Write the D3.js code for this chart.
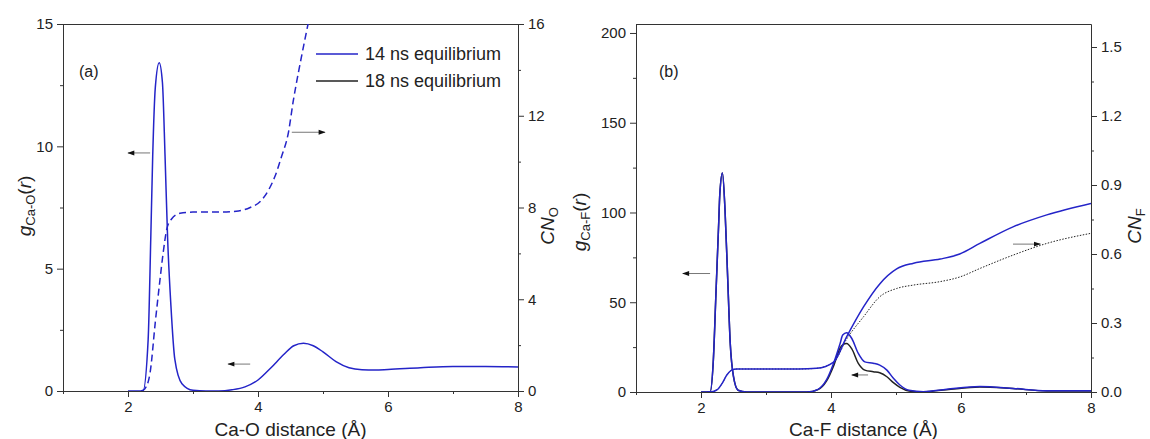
<!DOCTYPE html>
<html>
<head>
<meta charset="utf-8">
<script src="https://cdn.jsdelivr.net/npm/d3@7"></script>
<style>
    body { margin: 0; background: #fff; }
    text { font-family: "Liberation Sans", Arial, sans-serif; fill: #222; }
    .axis path, .axis line { stroke: #333; stroke-width: 1; }
    .axis text { font-size: 15px; font-family: "Liberation Sans", Arial, sans-serif; fill: #222; }
</style>
</head>
<body>
<div id="the_chart"></div>
<script>
// ---- panel (a): Ca-O ----
var r_gCaO = [2.0, 2.1, 2.23, 2.31, 2.35, 2.38, 2.42, 2.48, 2.53, 2.57, 2.61, 2.66, 2.72, 2.83, 3.0, 3.2, 3.4, 3.6, 3.8, 4.0, 4.2, 4.4, 4.55, 4.7, 4.85, 5.0, 5.2, 5.4, 5.6, 5.8, 6.0, 6.5, 7.0, 7.5, 8.0];
var gCaO = [0, 0, 0, 2.1, 6.2, 9.6, 12.4, 13.42, 12.6, 9.6, 6.2, 3.5, 1.3, 0.3, 0.03, 0, 0, 0.05, 0.17, 0.45, 0.95, 1.5, 1.85, 1.95, 1.85, 1.6, 1.2, 0.95, 0.87, 0.86, 0.88, 0.95, 1.0, 1.0, 0.98];

var r_cnO = [2.2, 2.26, 2.34, 2.42, 2.49, 2.54, 2.6, 2.67, 2.8, 3.0, 3.4, 3.7, 3.88, 4.03, 4.16, 4.26, 4.36, 4.47, 4.54, 4.65, 4.77, 4.9];
var cnO = [0, 0.1, 0.8, 3.0, 4.8, 6.0, 7.1, 7.5, 7.75, 7.8, 7.8, 7.85, 8.0, 8.25, 8.75, 9.35, 10.2, 11.3, 12.6, 14.3, 16, 17.8];

// ---- panel (b): Ca-F ----
var r_gCaF = [2.0, 2.1, 2.14, 2.19, 2.23, 2.27, 2.29, 2.33, 2.37, 2.41, 2.45, 2.5, 2.57, 2.7, 3.5, 3.63, 3.8, 3.93, 4.04, 4.14, 4.18, 4.24, 4.32, 4.42, 4.52, 4.65, 4.75, 4.86, 4.96, 5.06, 5.2, 5.42, 5.78, 6.29, 6.8, 7.32, 8.0];
var gCaF_14 = [0, 0, 0, 17.8, 54.9, 91.9, 110.5, 122, 101, 64, 27, 8.5, 1, 0, 0, 0, 1.5, 6.7, 16, 27, 31.7, 33, 29.8, 21.5, 16.8, 16, 15, 12.2, 7.6, 3.9, 1, 0.2, 1.5, 3, 2, 0.7, 0.7];
var gCaF_18 = [0, 0, 0, 17.8, 54.9, 91.9, 110.5, 122, 101, 64, 27, 8.5, 1, 0, 0, 0, 1.3, 6, 14.5, 24.5, 26.3, 27, 24, 16, 12.2, 11.3, 10.7, 8.5, 5.2, 2.6, 0.6, 0.1, 1.3, 2.8, 1.9, 0.6, 0.6];

var r_cnF = [2.1, 2.15, 2.25, 2.33, 2.4, 2.47, 2.55, 3.0, 3.5, 3.78, 4.04, 4.24, 4.5, 4.75, 5.01, 5.27, 5.68, 5.98, 6.29, 6.8, 7.32, 8.0];
var cnF_14 = [0, 0, 0.01, 0.04, 0.075, 0.095, 0.1, 0.1, 0.1, 0.103, 0.13, 0.24, 0.37, 0.47, 0.535, 0.56, 0.578, 0.60, 0.646, 0.718, 0.77, 0.82];
var cnF_18 = [0, 0, 0.01, 0.04, 0.075, 0.095, 0.1, 0.1, 0.1, 0.103, 0.13, 0.23, 0.327, 0.414, 0.45, 0.465, 0.48, 0.50, 0.537, 0.595, 0.646, 0.69];

var xTicks = [2, 4, 6, 8];
var xMinor = [1, 3, 5, 7];
var legendLabels = ["14 ns equilibrium", "18 ns equilibrium"];

var blue = "#2424c8";
var black = "#222";

gen_vis();

function zip(xs, ys) {
    return xs.map(function (x, i) { return [x, ys[i]]; });
}

function gen_vis() {
    var w = 1150;
    var h = 439;

    var svg = d3.select("#the_chart")
        .append("svg")
        .attr("width", w)
        .attr("height", h);

    svg.append("rect").attr("width", w).attr("height", h).attr("fill", "#fff");

    var defs = svg.append("defs");
    defs.append("marker")
        .attr("id", "head")
        .attr("viewBox", "0 0 10 10")
        .attr("refX", 9).attr("refY", 5)
        .attr("markerWidth", 10).attr("markerHeight", 7)
        .attr("markerUnits", "userSpaceOnUse")
        .attr("orient", "auto")
        .append("path")
        .attr("d", "M0,1.5 L10,5 L0,8.5 Z")
        .attr("fill", "#111");

    // panel a
    var pa = panel(svg, defs, "a", {
        x0: 63, x1: 518, y0: 24, y1: 391,
        yL: [0, 15], yLmaj: [0, 5, 10, 15], yLmin: [2.5, 7.5, 12.5],
        yR: [0, 16], yRmaj: [0, 4, 8, 12, 16], yRmin: [2, 6, 10, 14],
        fmtR: d3.format("d"), xlabel: "Ca-O distance (\u00c5)"
    });
    addSeries(pa, pa.yl, zip(r_gCaO, gCaO), blue, null, 1.5);
    addSeries(pa, pa.yr, zip(r_cnO, cnO), blue, "7,4", 1.5);
    arrow(pa, pa.yl, 2.34, 2.0, 9.73);
    arrow(pa, pa.yr, 4.52, 5.03, 11.28);
    arrow(pa, pa.yl, 3.88, 3.54, 1.1);

    // legend
    var lg = svg.append("g");
    [blue, black].forEach(function (c, i) {
        lg.append("line")
            .attr("x1", 316).attr("x2", 358)
            .attr("y1", 54 + i * 27).attr("y2", 54 + i * 27)
            .attr("stroke", c).attr("stroke-width", 1.5);
        lg.append("text")
            .attr("x", 365).attr("y", 60 + i * 27)
            .attr("font-size", 18)
            .text(legendLabels[i]);
    });

    svg.append("text").attr("x", 79).attr("y", 77).attr("font-size", 16).text("(a)");

    // y titles panel a
    var t1 = svg.append("text").attr("transform", "translate(31,206) rotate(-90)")
        .attr("text-anchor", "middle").attr("font-size", 19);
    t1.append("tspan").attr("font-style", "italic").text("g");
    t1.append("tspan").attr("font-size", 13).attr("dy", 4).text("Ca-O");
    t1.append("tspan").attr("dy", -4).text("(");
    t1.append("tspan").attr("font-style", "italic").text("r");
    t1.append("tspan").text(")");

    var t2 = svg.append("text").attr("transform", "translate(554,226) rotate(-90)")
        .attr("text-anchor", "middle").attr("font-size", 19);
    t2.append("tspan").attr("font-style", "italic").text("CN");
    t2.append("tspan").attr("font-size", 13).attr("dy", 4).text("O");

    // panel b
    var pb = panel(svg, defs, "b", {
        x0: 636, x1: 1091, y0: 24, y1: 392,
        yL: [0, 205], yLmaj: [0, 50, 100, 150, 200], yLmin: [25, 75, 125, 175],
        yR: [0, 1.6], yRmaj: [0, 0.3, 0.6, 0.9, 1.2, 1.5], yRmin: [0.15, 0.45, 0.75, 1.05, 1.35],
        fmtR: d3.format(".1f"), xlabel: "Ca-F distance (\u00c5)"
    });
    addSeries(pb, pb.yr, zip(r_cnF, cnF_18), black, "1.5,1.5", 1);
    addSeries(pb, pb.yl, zip(r_gCaF, gCaF_18), black, null, 1.5);
    addSeries(pb, pb.yl, zip(r_gCaF, gCaF_14), blue, null, 1.5);
    addSeries(pb, pb.yr, zip(r_cnF, cnF_14), blue, null, 1.5);
    arrow(pb, pb.yl, 2.14, 1.72, 66);
    arrow(pb, pb.yl, 4.57, 4.32, 9.5);
    arrow(pb, pb.yr, 6.80, 7.22, 0.643);

    svg.append("text").attr("x", 659).attr("y", 77).attr("font-size", 16).text("(b)");

    var t3 = svg.append("text").attr("transform", "translate(586,222) rotate(-90)")
        .attr("text-anchor", "middle").attr("font-size", 19);
    t3.append("tspan").attr("font-style", "italic").text("g");
    t3.append("tspan").attr("font-size", 13).attr("dy", 4).text("Ca-F");
    t3.append("tspan").attr("dy", -4).text("(");
    t3.append("tspan").attr("font-style", "italic").text("r");
    t3.append("tspan").text(")");

    var t4 = svg.append("text").attr("transform", "translate(1141,226) rotate(-90)")
        .attr("text-anchor", "middle").attr("font-size", 19);
    t4.append("tspan").attr("font-style", "italic").text("CN");
    t4.append("tspan").attr("font-size", 13).attr("dy", 4).text("F");
}

function panel(svg, defs, id, o) {
    var x = d3.scaleLinear().domain([1, 8]).range([o.x0, o.x1]);
    var yl = d3.scaleLinear().domain(o.yL).range([o.y1, o.y0]);
    var yr = d3.scaleLinear().domain(o.yR).range([o.y1, o.y0]);

    defs.append("clipPath").attr("id", "clip_" + id)
        .append("rect")
        .attr("x", o.x0).attr("y", o.y0)
        .attr("width", o.x1 - o.x0).attr("height", o.y1 - o.y0);

    var g = svg.append("g");

    // minor ticks
    g.append("g").attr("class", "axis").attr("transform", "translate(0," + o.y1 + ")")
        .call(d3.axisBottom(x).tickValues(xMinor).tickSize(3).tickSizeOuter(0).tickFormat(""));
    g.append("g").attr("class", "axis").attr("transform", "translate(" + o.x0 + ",0)")
        .call(d3.axisLeft(yl).tickValues(o.yLmin).tickSize(3).tickSizeOuter(0).tickFormat(""));
    g.append("g").attr("class", "axis").attr("transform", "translate(" + o.x1 + ",0)")
        .call(d3.axisRight(yr).tickValues(o.yRmin).tickSize(3).tickSizeOuter(0).tickFormat(""));

    // major ticks
    g.append("g").attr("class", "axis").attr("transform", "translate(0," + o.y1 + ")")
        .call(d3.axisBottom(x).tickValues(xTicks).tickSize(6).tickSizeOuter(0).tickPadding(4).tickFormat(d3.format("d")));
    g.append("g").attr("class", "axis").attr("transform", "translate(" + o.x0 + ",0)")
        .call(d3.axisLeft(yl).tickValues(o.yLmaj).tickSize(6).tickSizeOuter(0).tickPadding(4).tickFormat(d3.format("d")));
    g.append("g").attr("class", "axis").attr("transform", "translate(" + o.x1 + ",0)")
        .call(d3.axisRight(yr).tickValues(o.yRmaj).tickSize(6).tickSizeOuter(0).tickPadding(4).tickFormat(o.fmtR));

    // top frame
    g.append("line")
        .attr("x1", o.x0).attr("x2", o.x1)
        .attr("y1", o.y0 + 0.5).attr("y2", o.y0 + 0.5)
        .attr("stroke", "#333");

    g.append("text")
        .attr("x", (o.x0 + o.x1) / 2).attr("y", 436)
        .attr("text-anchor", "middle").attr("font-size", 19)
        .text(o.xlabel);

    var plot = svg.append("g").attr("clip-path", "url(#clip_" + id + ")");
    return { x: x, yl: yl, yr: yr, plot: plot };
}

function addSeries(p, y, pts, color, dash, sw) {
    var line = d3.line()
        .x(function (d) { return p.x(d[0]); })
        .y(function (d) { return y(d[1]); })
        .curve(d3.curveMonotoneX);
    p.plot.append("path")
        .datum(pts)
        .attr("d", line)
        .attr("fill", "none")
        .attr("stroke", color)
        .attr("stroke-width", sw)
        .attr("stroke-dasharray", dash);
}

function arrow(p, y, xFrom, xTo, v) {
    p.plot.append("line")
        .attr("x1", p.x(xFrom)).attr("x2", p.x(xTo))
        .attr("y1", y(v)).attr("y2", y(v))
        .attr("stroke", "#777").attr("stroke-width", 1)
        .attr("marker-end", "url(#head)");
}
</script>
</body>
</html>
